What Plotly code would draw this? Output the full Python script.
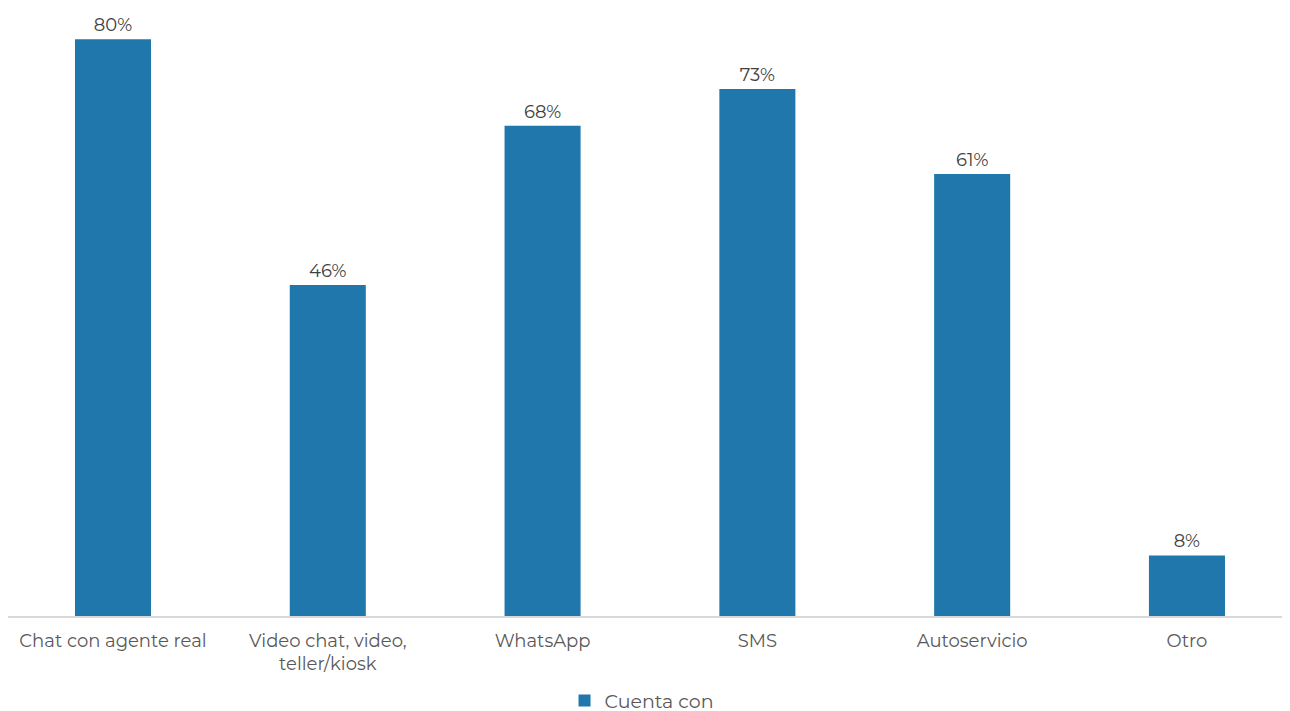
import plotly.graph_objects as go

categories = ["Chat con agente real", "Video chat, video,<br>teller/kiosk", "WhatsApp", "SMS", "Autoservicio", "Otro"]
values = [80.0, 45.9, 68.0, 73.1, 61.3, 8.4]
labels = ["80%", "46%", "68%", "73%", "61%", "8%"]
series_name = "Cuenta con"

font_family = "Montserrat, 'Open Sans', sans-serif"

fig = go.Figure()
fig.add_trace(go.Bar(
    x=categories, y=values, name=series_name,
    marker=dict(color="#1f77ab", line=dict(width=0)),
    text=labels, textposition="outside", cliponaxis=False,
    textfont=dict(size=18, color="#404040", family=font_family),
    showlegend=True,
))

fig.update_layout(
    width=1290, height=740,
    margin=dict(l=0, r=0, t=2, b=132),
    paper_bgcolor="white", plot_bgcolor="white",
    bargap=0.646,
    font=dict(family=font_family, size=18, color="#595959"),
    xaxis=dict(range=[-0.4888, 5.517], showline=True, linecolor="#d9d9d9", linewidth=2,
               ticks="", ticklabelstandoff=7, tickfont=dict(size=18, color="#595959")),
    yaxis=dict(range=[0, 84.05], visible=False, showgrid=False, zeroline=False),
    legend=dict(orientation="h", x=0.4915, xanchor="center", y=-0.1395, yanchor="middle",
                font=dict(size=19, color="#595959"), itemwidth=30),
    showlegend=True,
)

fig.write_html("out.html")
